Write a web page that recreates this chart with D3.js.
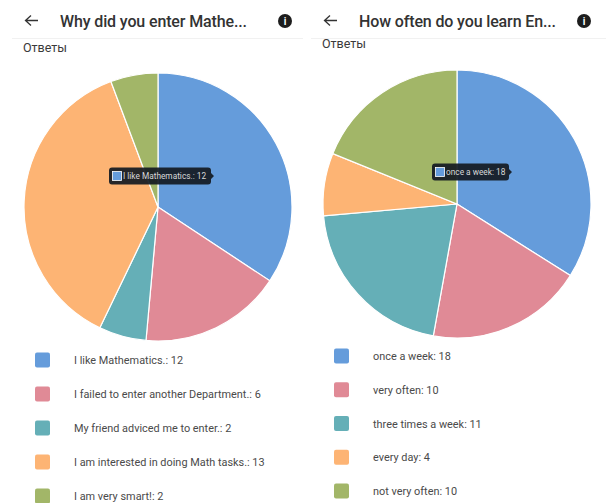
<!DOCTYPE html>
<html>
<head>
<meta charset="utf-8">
<script src="https://cdn.jsdelivr.net/npm/d3@7"></script>
<style>
  html, body { margin: 0; padding: 0; background: #fff; }
  svg { display: block; }
  text { font-family: Roboto, sans-serif; }
</style>
</head>
<body>
<svg id="chart"></svg>
<script>
const width = 606, height = 503;

const colours = ["#659cdb", "#e08a96", "#65afb7", "#fdb474", "#a2b668"];

const titleLeft = "Why did you enter Mathe...";
const titleRight = "How often do you learn En...";
const sectionLabel = "Ответы";

const categoriesLeft = ["I like Mathematics.", "I failed to enter another Department.", "My friend adviced me to enter.", "I am interested in doing Math tasks.", "I am very smart!"];
const valuesLeft = [12, 6, 2, 13, 2];

const categoriesRight = ["once a week", "very often", "three times a week", "every day", "not very often"];
const valuesRight = [18, 10, 11, 4, 10];

const svg = d3.select("#chart")
    .attr("width", width)
    .attr("height", height)
    .attr("viewBox", [0, 0, width, height]);

function renderPanel(cfg) {
    const g = svg.append("g");

    // header
    g.append("path")
        .attr("d", `M${cfg.arrowX + 13},20.5H${cfg.arrowX + 1}M${cfg.arrowX + 6},15.5L${cfg.arrowX + 0.5},20.5L${cfg.arrowX + 6},25.5`)
        .attr("fill", "none")
        .attr("stroke", "#333")
        .attr("stroke-width", 1.3);

    g.append("text")
        .attr("x", cfg.titleX)
        .attr("y", 26.5)
        .attr("font-size", 16)
        .attr("font-weight", 500)
        .attr("fill", "#333")
        .attr("textLength", cfg.titleW)
        .text(cfg.title);

    g.append("circle")
        .attr("cx", cfg.infoX)
        .attr("cy", 21)
        .attr("r", 7)
        .attr("fill", "#1d1d1d");
    g.append("text")
        .attr("x", cfg.infoX)
        .attr("y", 24.5)
        .attr("text-anchor", "middle")
        .attr("font-size", 10)
        .attr("font-weight", 700)
        .attr("fill", "#fff")
        .text("i");

    g.append("line")
        .attr("x1", cfg.ruleX0)
        .attr("x2", cfg.ruleX1)
        .attr("y1", 38.5)
        .attr("y2", 38.5)
        .attr("stroke", "#f1f1f1");

    g.append("text")
        .attr("x", cfg.labelX)
        .attr("y", cfg.labelY)
        .attr("font-size", 12.5)
        .attr("fill", "#3a3a3a")
        .text(sectionLabel);

    // pie
    const pie = d3.pie().sort(null)(cfg.values);
    const arc = d3.arc().innerRadius(0).outerRadius(cfg.r);

    g.append("g")
        .attr("transform", `translate(${cfg.cx},${cfg.cy})`)
        .selectAll("path")
        .data(pie)
        .join("path")
        .attr("d", arc)
        .attr("fill", (d, i) => colours[i])
        .attr("stroke", "#fff")
        .attr("stroke-width", 1.2);

    // legend
    const legendY = d3.scalePoint()
        .domain(d3.range(cfg.values.length))
        .range([cfg.legendTop, cfg.legendBottom]);

    const rows = g.append("g")
        .selectAll("g")
        .data(cfg.categories)
        .join("g")
        .attr("transform", (d, i) => `translate(0,${legendY(i)})`);

    rows.append("rect")
        .attr("x", cfg.swatchX)
        .attr("y", -7.5)
        .attr("width", 15)
        .attr("height", 15)
        .attr("rx", 2)
        .attr("fill", (d, i) => colours[i]);

    rows.append("text")
        .attr("x", cfg.legendTextX)
        .attr("y", 4)
        .attr("font-size", 10.9)
        .attr("fill", "#4a4a4a")
        .text((d, i) => `${d}: ${cfg.values[i]}`);

    // tooltip
    const tip = g.append("g").attr("transform", `translate(${cfg.tipX},${cfg.tipY})`);
    tip.append("path")
        .attr("d", `M3,-8.5H${cfg.tipW - 3}Q${cfg.tipW},-8.5 ${cfg.tipW},-5.5V-3L${cfg.tipW + 3},0L${cfg.tipW},3V5.5Q${cfg.tipW},8.5 ${cfg.tipW - 3},8.5H3Q0,8.5 0,5.5V-5.5Q0,-8.5 3,-8.5Z`)
        .attr("fill", "#141a22")
        .attr("fill-opacity", 0.92);
    tip.append("rect")
        .attr("x", 3.5)
        .attr("y", -4.5)
        .attr("width", 9)
        .attr("height", 9)
        .attr("fill", colours[0])
        .attr("stroke", "#fff")
        .attr("stroke-width", 0.8);
    tip.append("text")
        .attr("x", 14)
        .attr("y", 3)
        .attr("font-size", 8.3)
        .attr("fill", "#d8d8d8")
        .text(`${cfg.categories[0]}: ${cfg.values[0]}`);
}

renderPanel({
    title: titleLeft, titleW: 187, arrowX: 25, titleX: 60, infoX: 285, ruleX0: 12, ruleX1: 303,
    labelX: 23, labelY: 52, cx: 158, cy: 207, r: 134,
    categories: categoriesLeft, values: valuesLeft,
    swatchX: 35, legendTextX: 74, legendTop: 360, legendBottom: 496,
    tipX: 109, tipY: 176, tipW: 102
});

renderPanel({
    title: titleRight, titleW: 197, arrowX: 324, titleX: 359, infoX: 584, ruleX0: 311, ruleX1: 606,
    labelX: 322, labelY: 48, cx: 457, cy: 204, r: 134,
    categories: categoriesRight, values: valuesRight,
    swatchX: 334, legendTextX: 373, legendTop: 356, legendBottom: 491,
    tipX: 432, tipY: 172, tipW: 77
});
</script>
</body>
</html>
